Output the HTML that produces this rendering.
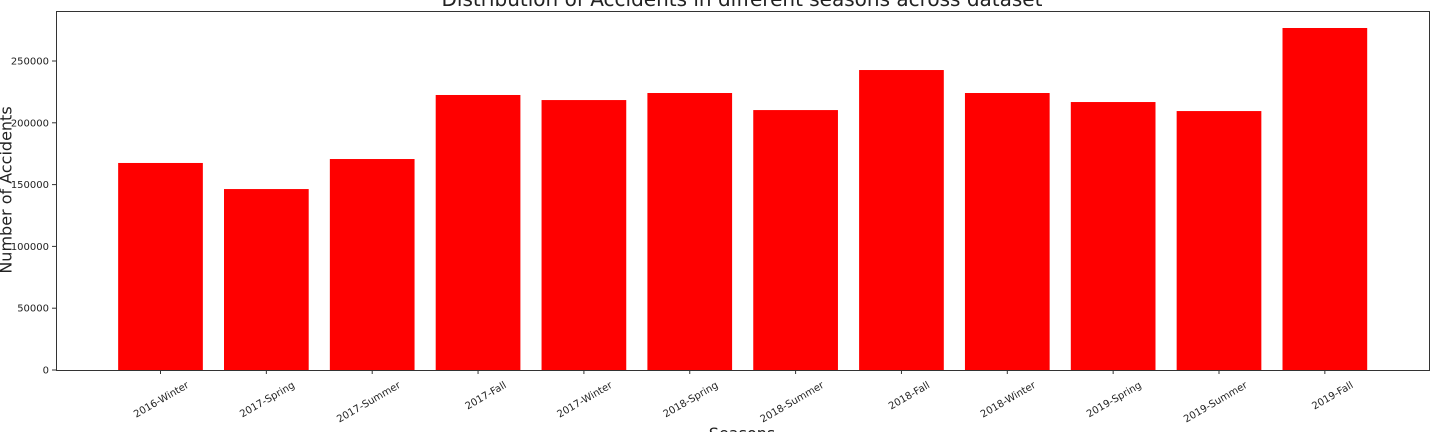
<!DOCTYPE html>
<html><head><meta charset="utf-8"><style>
html,body{margin:0;padding:0;background:#fff;width:1440px;height:432px;overflow:hidden}
svg text{font-family:"DejaVu Sans","Liberation Sans",sans-serif;fill:#222}
</style></head><body>
<svg id="chart" width="1440" height="432" xmlns="http://www.w3.org/2000/svg">
<text x="742" y="6" font-size="20" text-anchor="middle">Distribution of Accidents in different seasons across dataset</text>
<text transform="translate(7,190) rotate(-90)" font-size="16" text-anchor="middle" dominant-baseline="middle">Number of Accidents</text>
<text x="742" y="439" font-size="16" text-anchor="middle">Seasons</text>
<g id="bars"></g><g id="yticks"></g><g id="xticks"></g>
<rect x="56.5" y="11.5" width="1373" height="359" fill="none" stroke="#333" stroke-width="1"/>
</svg>
<script>
const categories=["2016-Winter","2017-Spring","2017-Summer","2017-Fall","2017-Winter","2018-Spring","2018-Summer","2018-Fall","2018-Winter","2019-Spring","2019-Summer","2019-Fall"];
const accidents=[167500,146400,170700,222500,218400,224100,210300,242700,224100,216800,209500,276700];
const yTicks=[0,50000,100000,150000,200000,250000];
const NS="http://www.w3.org/2000/svg";
function y(v){return 370-v*309/250000;}
function x(i){return 160.5+i*105.85;}
const bw=84.7;
const bars=document.getElementById('bars'),yt=document.getElementById('yticks'),xt=document.getElementById('xticks');
function mk(t,a){const e=document.createElementNS(NS,t);for(const k in a)e.setAttribute(k,a[k]);return e;}
categories.forEach((c,i)=>{
  const r=mk('rect',{x:x(i)-bw/2,y:y(accidents[i]),width:bw,height:370-y(accidents[i]),fill:'#ff0000'});
  
  
  bars.appendChild(r);
  const tk=mk('line',{x1:x(i),x2:x(i),y1:370,y2:374,stroke:'#333'});
  
  
  xt.appendChild(tk);
  const t=mk('text',{'font-size':10,'text-anchor':'end',transform:`translate(${x(i)+29},${387}) rotate(-30)`});
  t.textContent=c;
  
  
  xt.appendChild(t);
});
yTicks.forEach(v=>{
  const tk=mk('line',{x1:52,x2:56,y1:y(v),y2:y(v),stroke:'#333'});
  
  
  yt.appendChild(tk);
  const t=mk('text',{x:49,y:y(v)+3.5,'font-size':10,'text-anchor':'end'});
  t.textContent=v;
  
  
  yt.appendChild(t);
});
</script>
</body></html>
